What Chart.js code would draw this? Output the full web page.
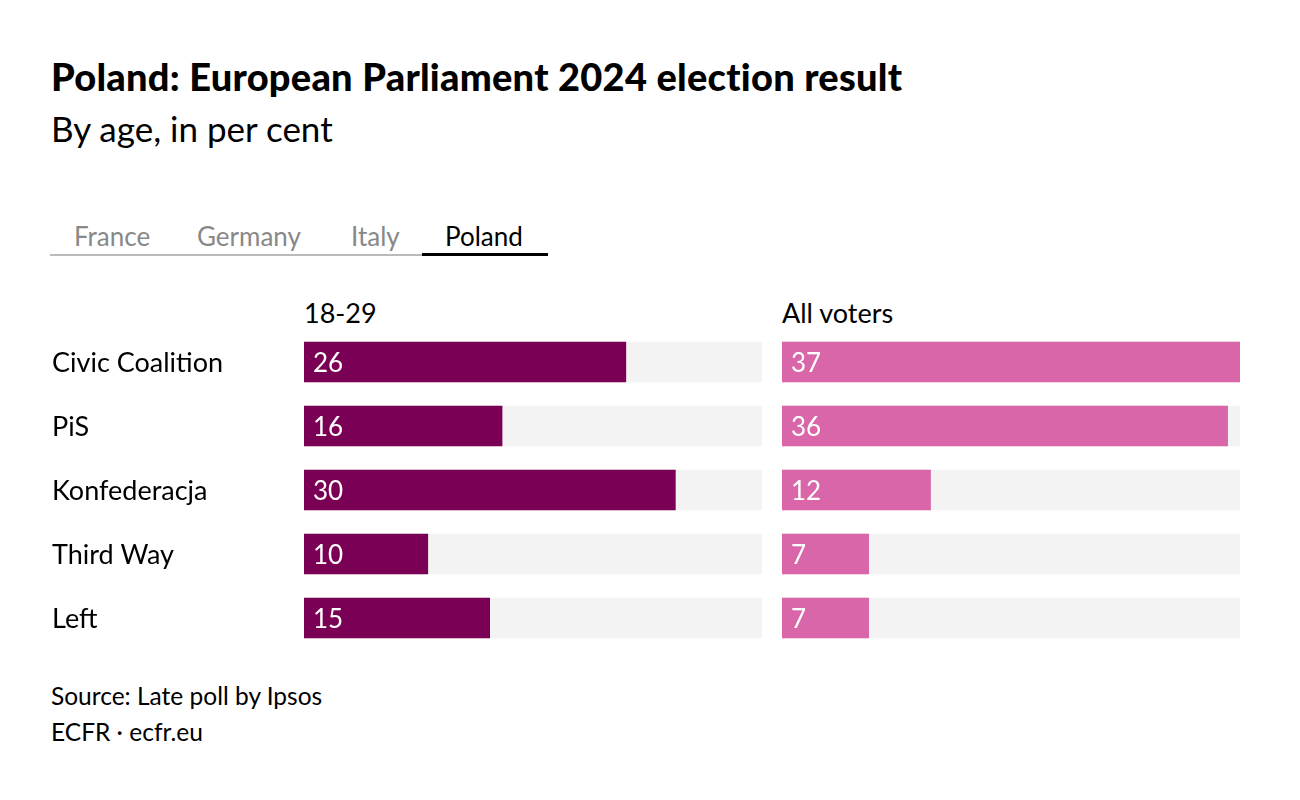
<!DOCTYPE html>
<html><head><meta charset="utf-8">
<script src="https://cdn.jsdelivr.net/npm/chart.js@4"></script>
<style>
html,body{margin:0;padding:0;background:#fff;width:1300px;height:800px;overflow:hidden;font-family:Lato,"Noto Sans",sans-serif;color:#000}
.abs{position:absolute;white-space:nowrap}
#title{left:51px;top:53px;font-size:38px;font-weight:900;letter-spacing:0.25px}
#sub{left:51px;top:107px;font-size:35px;font-weight:400}
#tabs{left:50px;top:220px;width:498px;height:37px}
#tabs .line{position:absolute;left:0;top:34px;width:372px;height:2px;background:#bbb}
#tabs .act{position:absolute;left:372px;top:33px;width:126px;height:3px;background:#000}
.tab{position:absolute;top:0;font-size:26px;color:#888}
.hdr{top:296px;font-size:27px}
.src{left:51px;font-size:24.5px}
</style></head>
<body>
<div id="title" class="abs">Poland: European Parliament 2024 election result</div>
<div id="sub" class="abs">By age, in per cent</div>
<div id="tabs" class="abs"></div>
<div class="abs hdr" id="h1" style="left:304px"></div>
<div class="abs hdr" id="h2" style="left:782px"></div>
<div class="abs" style="left:52px;top:330px;width:710px;height:320px"><canvas id="c1"></canvas></div>
<div class="abs" style="left:782px;top:330px;width:458px;height:320px"><canvas id="c2"></canvas></div>
<div class="abs src" style="top:681px">Source: Late poll by Ipsos</div>
<div class="abs src" style="top:717px">ECFR · ecfr.eu</div>
<script>
const categories = ['Civic Coalition','PiS','Konfederacja','Third Way','Left'];
const young = [26,16,30,10,15];
const allVoters = [37,36,12,7,7];
const panelHeaders = ['18-29','All voters'];
const tabs = ['France','Germany','Italy','Poland'];
const activeTab = 'Poland';
const scaleMax = 37;

// tabs
const tabsEl = document.getElementById('tabs');
tabsEl.innerHTML = '<div class="line"></div><div class="act"></div>';
const tabLeft = [24,147,301,395];
tabs.forEach((t,i)=>{
  const d=document.createElement('div');d.className='tab';d.textContent=t;
  d.style.left=tabLeft[i]+'px';
  if(t===activeTab) d.style.color='#000';
  tabsEl.appendChild(d);
});
document.getElementById('h1').textContent=panelHeaders[0];
document.getElementById('h2').textContent=panelHeaders[1];

const FONT = 'Lato, "Noto Sans", sans-serif';
const valueLabels = {
  id:'valueLabels',
  afterDatasetsDraw(chart, args, opts){
    const ctx=chart.ctx;
    const meta=chart.getDatasetMeta(0);
    ctx.save();
    ctx.textBaseline='middle';
    ctx.textAlign='left';
    meta.data.forEach((bar,i)=>{
      ctx.fillStyle='#fff';
      ctx.font='26px '+FONT;
      ctx.fillText(String(chart.data.datasets[0].data[i]), bar.base+9, bar.y+2);
      if(opts.categoryLabels){
        ctx.fillStyle='#000';
        ctx.font='27px '+FONT;
        ctx.fillText(chart.data.labels[i], 0, bar.y+1);
      }
    });
    ctx.restore();
  }
};

function makeChart(id, values, color, showLabels){
  return new Chart(document.getElementById(id),{
    type:'bar',
    data:{labels:categories,datasets:[
      {data:values,backgroundColor:color,barThickness:40,order:0},
      {data:categories.map(()=>scaleMax),backgroundColor:'#f3f3f3',barThickness:40,order:1}
    ]},
    options:{
      indexAxis:'y',responsive:true,maintainAspectRatio:false,animation:false,
      layout:{padding:{left:showLabels?252:0,right:0,top:0,bottom:0}},
      plugins:{legend:{display:false},tooltip:{enabled:false},title:{display:false},
        valueLabels:{categoryLabels:showLabels}},
      datasets:{bar:{grouped:false}},
      scales:{
        x:{display:false,min:0,max:scaleMax},
        y:{display:false}
      }
    },
    plugins:[valueLabels]
  });
}
makeChart('c1', young, '#7a0055', true);
makeChart('c2', allVoters, '#d966a8', false);
</script>
</body></html>
